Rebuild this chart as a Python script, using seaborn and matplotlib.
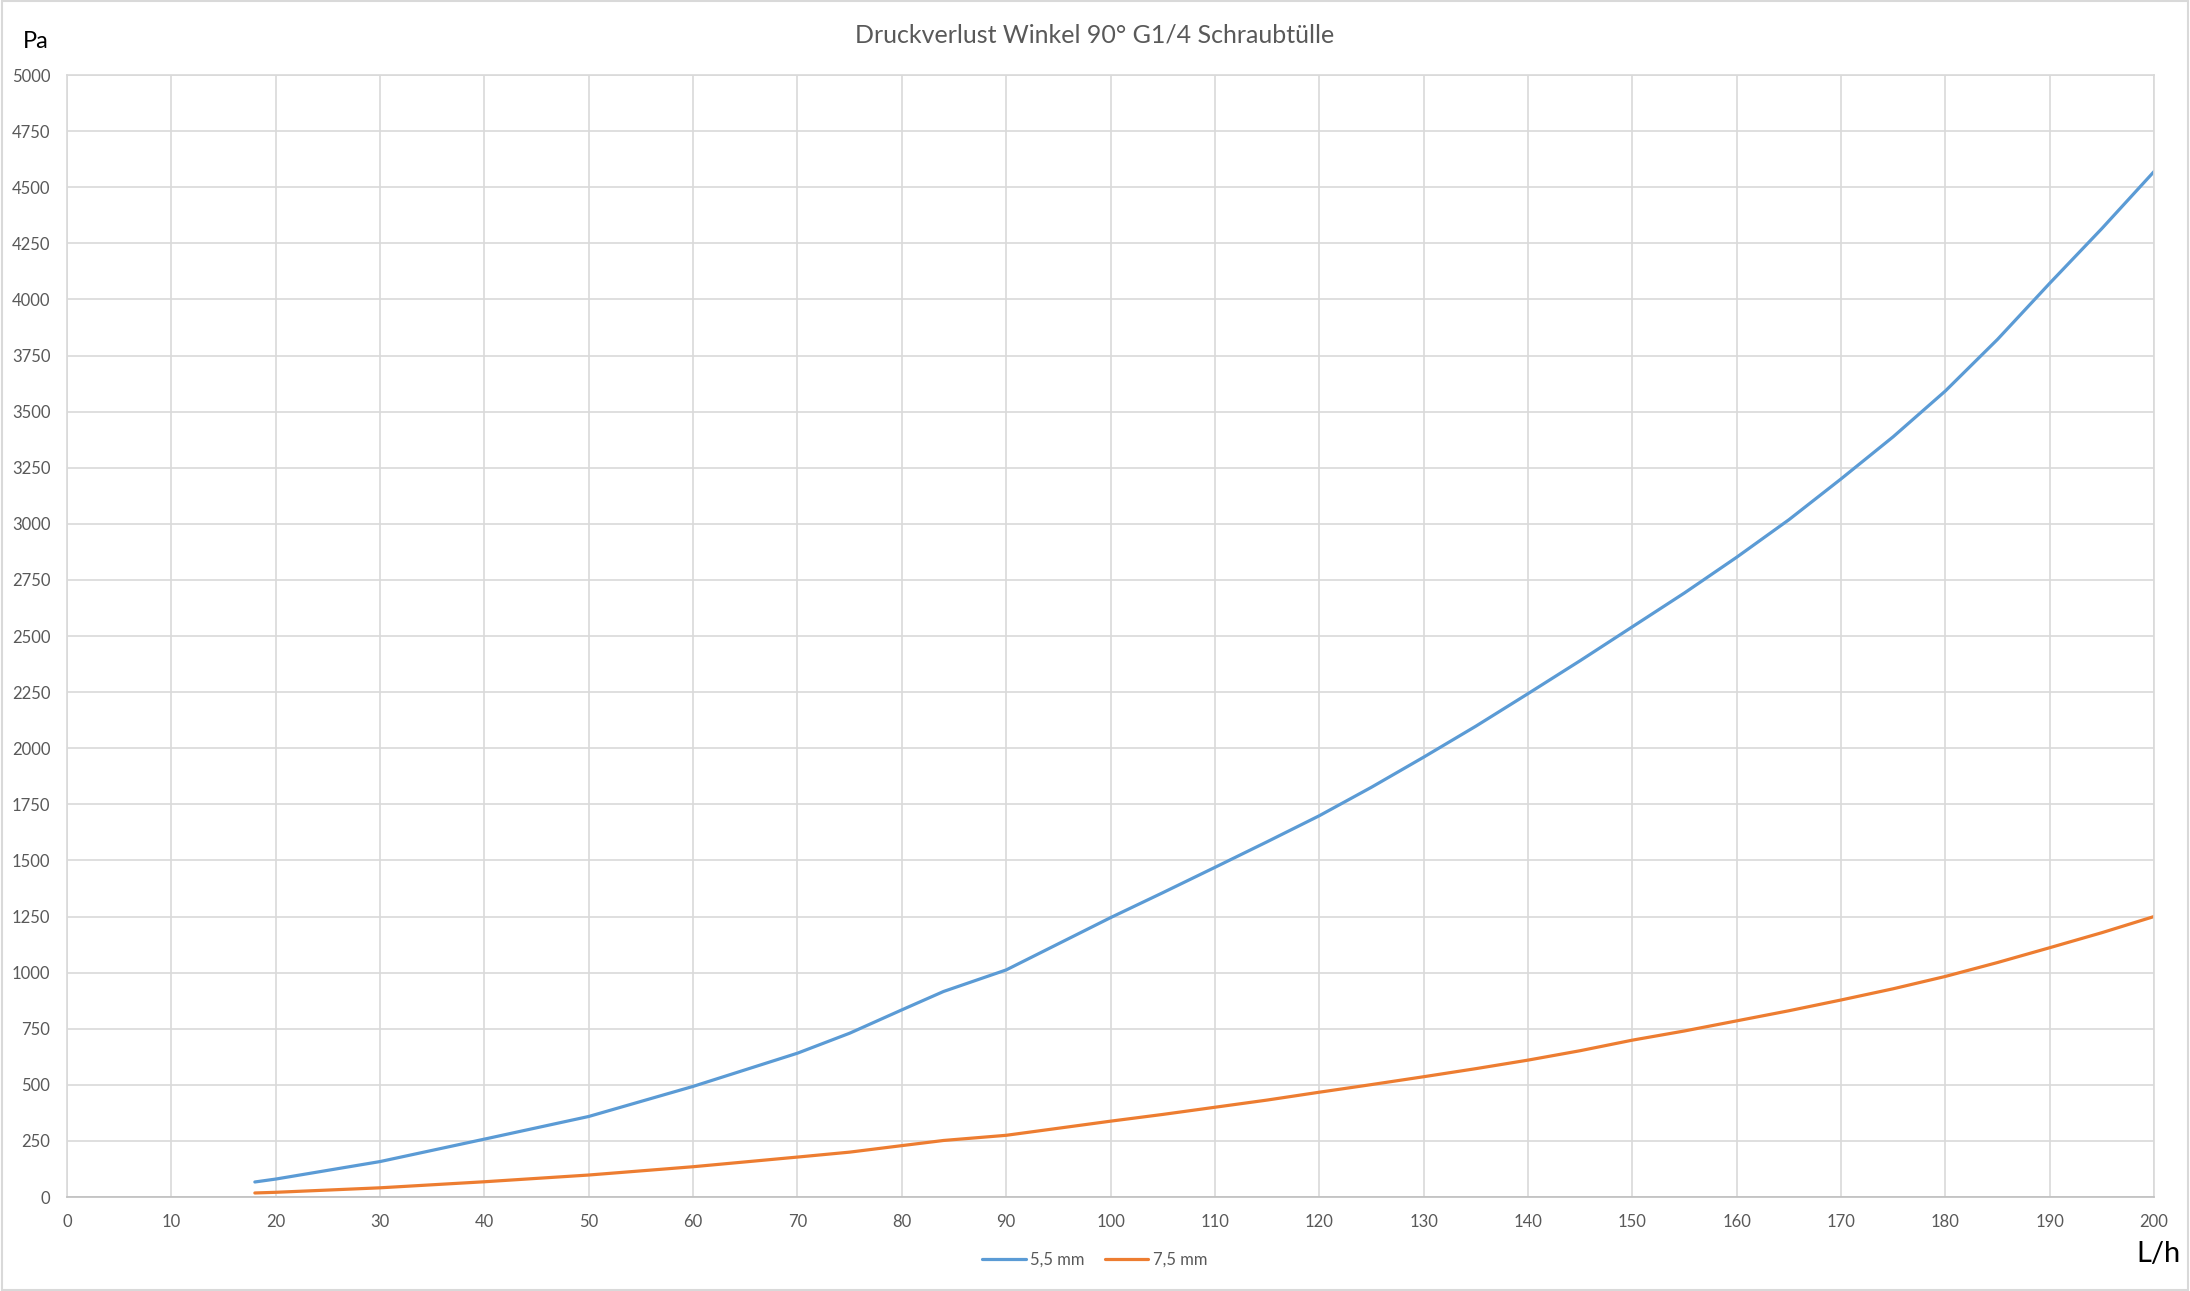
import pandas as pd
import seaborn as sns
import matplotlib.pyplot as plt
from matplotlib.patches import Rectangle

# data
flow = [18, 20, 30, 40, 50, 60, 70, 75, 80, 84, 90, 100, 105, 110, 115, 120, 125, 130, 135, 140,
        145, 150, 155, 160, 165, 170, 175, 180, 185, 190, 195, 200]
dp_55 = [67, 80, 158, 258, 359, 493, 641, 730, 834, 916, 1012, 1245, 1356, 1469, 1583, 1699, 1826, 1960, 2098, 2243,
         2390, 2541, 2692, 2851, 3018, 3200, 3388, 3592, 3822, 4072, 4316, 4570]
dp_75 = [18, 21, 41, 68, 98, 135, 178, 200, 229, 252, 275, 338, 368, 400, 432, 467, 501, 536, 572, 610,
         652, 699, 740, 785, 830, 878, 928, 983, 1045, 1111, 1178, 1250]
series = ["5,5 mm", "7,5 mm"]
colors = ["#5B9BD5", "#ED7D31"]
x_ticks = list(range(0, 201, 10))
y_ticks = list(range(0, 5001, 250))

df = pd.DataFrame({
    "flow": flow * 2,
    "dp": dp_55 + dp_75,
    "series": [series[0]] * len(flow) + [series[1]] * len(flow),
})

sns.set_style("white")
plt.rcParams["font.family"] = ["Lato", "DejaVu Sans"]

fig = plt.figure(figsize=(21.9, 12.91), dpi=100)
ax = fig.add_axes([0.0306, 0.0728, 0.953, 0.8691])

sns.lineplot(data=df, x="flow", y="dp", hue="series", palette=colors,
             linewidth=2.3, ax=ax, legend=True)

ax.set_xlim(0, 200)
ax.set_ylim(0, 5000)
ax.set_xticks(x_ticks)
ax.set_yticks(y_ticks)
ax.grid(True, color="#d9d9d9", linewidth=1.2)
ax.set_axisbelow(True)
for s in ax.spines.values():
    s.set_color("#d9d9d9")
    s.set_linewidth(1.2)
ax.spines["bottom"].set_color("#bfbfbf")
ax.tick_params(length=0, labelsize=12, labelcolor="#595959")
ax.tick_params(axis="x", pad=12)
ax.tick_params(axis="y", pad=12)
ax.set_xlabel("")
ax.set_ylabel("")

handles, labels = ax.get_legend_handles_labels()
ax.legend_.remove()
fig.legend(handles, labels, loc="center", bbox_to_anchor=(0.5, 0.024), ncol=2,
           frameon=False, fontsize=12, labelcolor="#595959",
           handlelength=2.6, handletextpad=0.3, columnspacing=1.2)

fig.text(0.5, 0.973, "Druckverlust Winkel 90° G1/4 Schraubtülle",
         ha="center", va="center", fontsize=18, color="#595959")
fig.text(0.0165, 0.968, "Pa", ha="center", va="center", fontsize=17, color="black")
fig.text(0.9855, 0.029, "L/h", ha="center", va="center", fontsize=21, color="black")

fig.patches.append(Rectangle((0.001, 0.001), 0.998, 0.998, transform=fig.transFigure,
                             fill=False, edgecolor="#d9d9d9", linewidth=1.5))

fig.savefig("out.png", dpi=100)
